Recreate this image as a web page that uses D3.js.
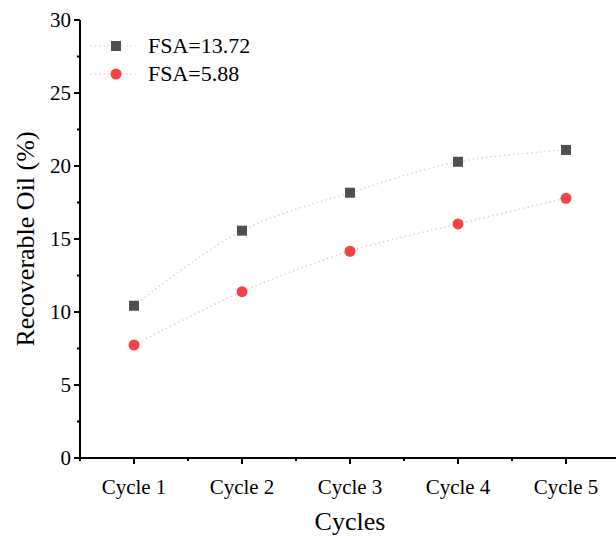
<!DOCTYPE html>
<html>
<head>
<meta charset="utf-8">
<script src="https://cdn.jsdelivr.net/npm/d3@7"></script>
<style>
  body { margin: 0; background: #fff; }
  text { font-family: "Liberation Serif", "Times New Roman", serif; fill: #000; }
</style>
</head>
<body>
<svg id="chart" width="616" height="536"></svg>
<script>
// data
var cycles = ["Cycle 1", "Cycle 2", "Cycle 3", "Cycle 4", "Cycle 5"];
var fsa_high = [10.43, 15.57, 18.17, 20.29, 21.1];
var fsa_low = [7.74, 11.39, 14.16, 16.03, 17.79];
var series_names = ["FSA=13.72", "FSA=5.88"];
var y_ticks = [0, 5, 10, 15, 20, 25, 30];

var svg = d3.select("#chart");

var plotLeft = 80, plotRight = 620, plotTop = 20, plotBottom = 458;

var x = d3.scaleLinear()
          .domain([0, 5])
          .range([plotLeft, plotRight]);

var y = d3.scaleLinear()
          .domain([0, 30])
          .range([plotBottom, plotTop]);

// x axis
var xAxis = svg.append("g").attr("transform", "translate(0," + plotBottom + ")");
xAxis.append("line")
    .attr("x1", plotLeft - 1).attr("x2", plotRight)
    .attr("stroke", "#000").attr("stroke-width", 2);

var xMinor = [0, 1, 2, 3, 4, 5];
xAxis.selectAll(".minor")
    .data(xMinor)
    .enter().append("line")
    .attr("x1", function(d) { return x(d); })
    .attr("x2", function(d) { return x(d); })
    .attr("y1", 0).attr("y2", 3)
    .attr("stroke", "#000").attr("stroke-width", 2);

xAxis.selectAll(".major")
    .data(cycles)
    .enter().append("line")
    .attr("x1", function(d, i) { return x(i + 0.5); })
    .attr("x2", function(d, i) { return x(i + 0.5); })
    .attr("y1", 0).attr("y2", 6)
    .attr("stroke", "#000").attr("stroke-width", 2);

xAxis.selectAll(".lbl")
    .data(cycles)
    .enter().append("text")
    .attr("x", function(d, i) { return x(i + 0.5); })
    .attr("y", 36)
    .attr("text-anchor", "middle")
    .style("font-size", "21px")
    .text(function(d) { return d; });

// y axis
var yAxis = svg.append("g").attr("transform", "translate(" + plotLeft + ",0)");
yAxis.append("line")
    .attr("y1", plotTop).attr("y2", plotBottom + 1)
    .attr("stroke", "#000").attr("stroke-width", 2);

yAxis.selectAll(".minor")
    .data(d3.range(2.5, 30, 5))
    .enter().append("line")
    .attr("y1", function(d) { return y(d); })
    .attr("y2", function(d) { return y(d); })
    .attr("x1", 0).attr("x2", -3)
    .attr("stroke", "#000").attr("stroke-width", 2);

yAxis.selectAll(".major")
    .data(y_ticks)
    .enter().append("line")
    .attr("y1", function(d) { return y(d); })
    .attr("y2", function(d) { return y(d); })
    .attr("x1", 0).attr("x2", -6)
    .attr("stroke", "#000").attr("stroke-width", 2);

yAxis.selectAll(".lbl")
    .data(y_ticks)
    .enter().append("text")
    .attr("x", -9)
    .attr("y", function(d) { return y(d) + 7; })
    .attr("text-anchor", "end")
    .style("font-size", "21px")
    .text(function(d) { return d; });

// axis titles
svg.append("text")
    .attr("x", x(2.5)).attr("y", 530)
    .attr("text-anchor", "middle")
    .style("font-size", "26px")
    .text("Cycles");

svg.append("text")
    .attr("transform", "translate(34," + ((plotTop + plotBottom) / 2) + ") rotate(-90)")
    .attr("text-anchor", "middle")
    .style("font-size", "26px")
    .text("Recoverable Oil (%)");

// series
var line = d3.line()
    .x(function(d, i) { return x(i + 0.5); })
    .y(function(d) { return y(d); })
    .curve(d3.curveCatmullRom);

svg.append("path")
    .attr("d", line(fsa_high))
    .attr("fill", "none")
    .attr("stroke", "#d8d8d8")
    .attr("stroke-width", 1.5)
    .attr("stroke-dasharray", "1.5,3");

svg.append("path")
    .attr("d", line(fsa_low))
    .attr("fill", "none")
    .attr("stroke", "#f8c8c8")
    .attr("stroke-width", 1.5)
    .attr("stroke-dasharray", "1.5,3");

svg.selectAll(".sq")
    .data(fsa_high)
    .enter().append("rect")
    .attr("x", function(d, i) { return x(i + 0.5) - 5; })
    .attr("y", function(d) { return y(d) - 5; })
    .attr("width", 10).attr("height", 10)
    .attr("fill", "#4f4f4f");

svg.selectAll(".dot")
    .data(fsa_low)
    .enter().append("circle")
    .attr("cx", function(d, i) { return x(i + 0.5); })
    .attr("cy", function(d) { return y(d); })
    .attr("r", 5.5)
    .attr("fill", "#f24444");

// legend
var legend = svg.append("g");
var legendY = [46, 74];
legend.selectAll(".lline")
    .data(legendY)
    .enter().append("line")
    .attr("x1", 90).attr("x2", 137)
    .attr("y1", function(d) { return d; })
    .attr("y2", function(d) { return d; })
    .attr("stroke", function(d, i) { return i == 0 ? "#e0e0e0" : "#fad0d0"; })
    .attr("stroke-width", 1.5)
    .attr("stroke-dasharray", "1.5,3");

legend.append("rect")
    .attr("x", 111).attr("y", legendY[0] - 5)
    .attr("width", 10).attr("height", 10)
    .attr("fill", "#4f4f4f");

legend.append("circle")
    .attr("cx", 116).attr("cy", legendY[1])
    .attr("r", 5.5)
    .attr("fill", "#f24444");

legend.selectAll(".ltext")
    .data(series_names)
    .enter().append("text")
    .attr("x", 148)
    .attr("y", function(d, i) { return legendY[i] + 7; })
    .style("font-size", "22px")
    .text(function(d) { return d; });
</script>
</body>
</html>
